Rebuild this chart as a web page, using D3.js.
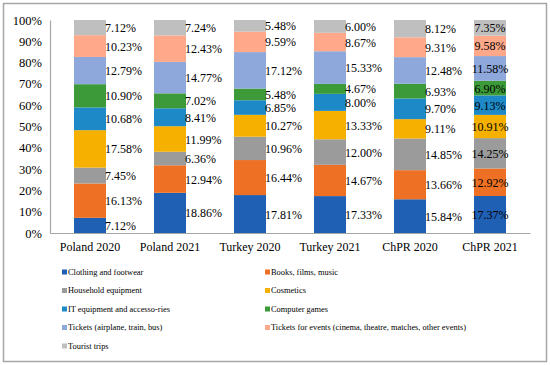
<!DOCTYPE html>
<html lang="en">
<head>
<meta charset="UTF-8">
<title>Online purchases by category</title>
<script src="https://cdnjs.cloudflare.com/ajax/libs/d3/7.8.5/d3.min.js"></script>
<style>
  body { margin: 0; padding: 0; background: #fff; }
  svg { display: block; }
  svg text { font-family: "Liberation Serif", "Times New Roman", serif !important; }
</style>
</head>
<body>
<div id="chart"></div>
<script>
// Data
const categories = ["Poland 2020", "Poland 2021", "Turkey 2020", "Turkey 2021", "ChPR 2020", "ChPR 2021"];
const seriesNames = [
  "Clothing and footwear",
  "Books, films, music",
  "Household equipment",
  "Cosmetics",
  "IT equipment and accesso-ries",
  "Computer games",
  "Tickets (airplane, train, bus)",
  "Tickets for events (cinema, theatre, matches, other events)",
  "Tourist trips"
];
const clothing  = [7.12, 18.86, 17.81, 17.33, 15.84, 17.37];
const books     = [16.13, 12.94, 16.44, 14.67, 13.66, 12.92];
const household = [7.45, 6.36, 10.96, 12.00, 14.85, 14.25];
const cosmetics = [17.58, 11.99, 10.27, 13.33, 9.11, 10.91];
const itEquip   = [10.68, 8.41, 6.85, 8.00, 9.70, 9.13];
const games     = [10.90, 7.02, 5.48, 4.67, 6.93, 6.90];
const tickets   = [12.79, 14.77, 17.12, 15.33, 12.48, 11.58];
const events    = [10.23, 12.43, 9.59, 8.67, 9.31, 9.58];
const trips     = [7.12, 7.24, 5.48, 6.00, 8.12, 7.35];
const seriesValues = [clothing, books, household, cosmetics, itEquip, games, tickets, events, trips];
const yTicks = [0, 10, 20, 30, 40, 50, 60, 70, 80, 90, 100];

const colors = ["#1f5fb4", "#ed7024", "#9b9b9b", "#f5b000", "#1e89c7", "#3c9a38", "#8ea8dc", "#ffa98a", "#bfbfbf"];

const width = 550, height = 365;
const margin = { left: 50, right: 20, top: 20, bottom: 132 };

const svg = d3.select("#chart").append("svg")
  .attr("width", width)
  .attr("height", height);

// outer frame
svg.append("rect")
  .attr("x", 3.5).attr("y", 3.5)
  .attr("width", width - 7).attr("height", height - 7)
  .attr("fill", "#fff")
  .attr("stroke", "#a6a6a6")
  .attr("stroke-width", 1.5);

const x = d3.scaleBand()
  .domain(categories)
  .range([margin.left, 530])
  .paddingInner(0.6)
  .paddingOuter(0.3);

const y = d3.scaleLinear()
  .domain([0, 100])
  .range([233, 20]);

// table for d3.stack
const table = categories.map((c, i) => {
  const row = { cat: c };
  seriesNames.forEach((s, k) => { row[s] = seriesValues[k][i]; });
  return row;
});
const stacked = d3.stack().keys(seriesNames).offset(d3.stackOffsetExpand)(table);

// y axis
const yAxis = svg.append("g")
  .attr("transform", `translate(${margin.left},0)`)
  .call(d3.axisLeft(y).tickValues(yTicks).tickSize(0).tickPadding(8).tickFormat(d => d + "%"));
yAxis.select(".domain").attr("stroke", "#a6a6a6").attr("stroke-width", 1.2);
yAxis.selectAll("text").attr("font-size", "12.5px").attr("fill", "#000");

// x axis
const xAxis = svg.append("g")
  .attr("transform", `translate(0,${y(0)})`)
  .call(d3.axisBottom(x).tickSize(0).tickPadding(9));
xAxis.select(".domain").attr("stroke", "#a6a6a6").attr("stroke-width", 1.2);
xAxis.selectAll("text").attr("font-size", "12px").attr("fill", "#000");

// bars
const layers = svg.append("g").selectAll("g")
  .data(stacked)
  .enter().append("g")
  .attr("fill", (d, i) => colors[i]);

layers.selectAll("rect")
  .data(d => d)
  .enter().append("rect")
  .attr("x", d => x(d.data.cat))
  .attr("width", x.bandwidth())
  .attr("y", d => y(d[1] * 100))
  .attr("height", d => y(d[0] * 100) - y(d[1] * 100));

// data labels (last column centred on the bar)
const lastCat = categories[categories.length - 1];
layers.selectAll("text")
  .data((d, k) => d.map(p => ({ p, k })))
  .enter().append("text")
  .attr("x", d => d.p.data.cat === lastCat ? x(d.p.data.cat) + x.bandwidth() / 2 : x(d.p.data.cat) + x.bandwidth() - 1)
  .attr("y", d => y((d.p[0] + d.p[1]) / 2 * 100))
  .attr("dy", "0.38em")
  .attr("text-anchor", d => d.p.data.cat === lastCat ? "middle" : "start")
  .attr("font-size", "12px")
  .attr("fill", "#000")
  .text(d => seriesValues[d.k][categories.indexOf(d.p.data.cat)].toFixed(2) + "%");

// legend
const legend = svg.append("g").attr("font-size", "8.4px");
seriesNames.forEach((s, i) => {
  const col = i % 2, row = Math.floor(i / 2);
  const lx = col === 0 ? 62 : 265;
  const ly = 272 + row * 18.5;
  const g = legend.append("g").attr("transform", `translate(${lx},${ly})`);
  g.append("rect").attr("x", 0).attr("y", -2.5).attr("width", 5).attr("height", 5).attr("fill", colors[i]);
  g.append("text").attr("x", 6).attr("dy", "0.35em").attr("fill", "#000").text(s);
});
</script>
</body>
</html>
